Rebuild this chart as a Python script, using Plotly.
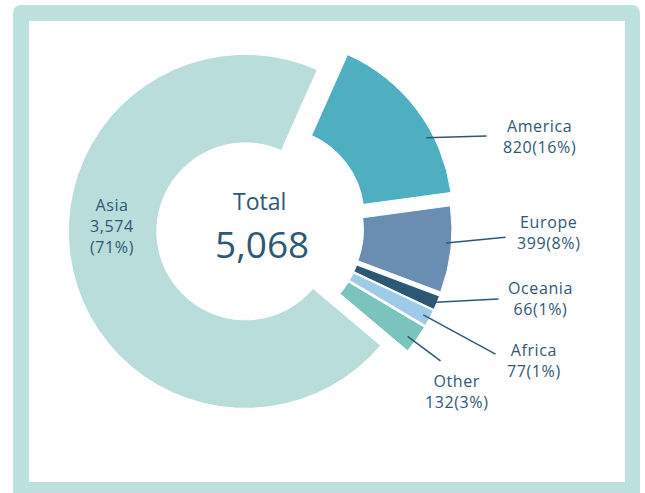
import math
import plotly.graph_objects as go

# Regional breakdown (clockwise from America)
regions = ["America", "Europe", "Oceania", "Africa", "Other", "Asia"]
counts = [820, 399, 66, 77, 132, 3574]
pct_labels = [16, 8, 1, 1, 3, 71]
colors = ["#4DAFBF", "#6A8EB2", "#2D5874", "#9DCBE8", "#7BC3BD", "#B9DDDB"]
pulls = [0.11, 0.085, 0.085, 0.085, 0.085, 0.085]

W, H = 645, 493
TEXT = "#2F5875"
FONT = "Open Sans"
FRAME = "#BDE1DF"
LABEL_SIZE = 16

# pie placement in pixels
CX, CY, R = 260, 228, 177
ROTATION = 24

def px(x):
    return x / W

def py(y):
    return 1 - y / H

half = R * (1 + max(pulls))
domain_x = [px(CX - half), px(CX + half)]
domain_y = [py(CY + half), py(CY - half)]

fig = go.Figure(go.Pie(
    labels=regions,
    values=counts,
    sort=False,
    direction="clockwise",
    rotation=ROTATION,
    hole=0.5,
    pull=pulls,
    marker=dict(colors=colors, line=dict(color="white", width=1)),
    textinfo="none",
    hoverinfo="label+value",
    domain=dict(x=domain_x, y=domain_y),
    showlegend=False,
))

# slice angles (degrees clockwise from 12 o'clock)
total = sum(counts)
starts, spans = [], []
a = ROTATION
for v in counts:
    starts.append(a)
    spans.append(360 * v / total)
    a += 360 * v / total

def slice_point(i, frac, rho):
    mid = math.radians(starts[i] + spans[i] / 2)
    ang = math.radians(starts[i] + frac * spans[i])
    off = pulls[i] * R
    x = CX + off * math.sin(mid) + rho * R * math.sin(ang)
    y = CY - off * math.cos(mid) - rho * R * math.cos(ang)
    return x, y

# outside labels: leader anchor (fraction along slice, radial fraction),
# leader end point, and the centre of the label block
label_pos = {
    "America": dict(frac=0.66, rho=0.96, end=(488, 136), centre=(539, 137)),
    "Europe": dict(frac=0.43, rho=0.97, end=(507, 237), centre=(548, 232)),
    "Oceania": dict(frac=0.5, rho=0.99, end=(500, 299), centre=(540, 298)),
    "Africa": dict(frac=0.5, rho=0.96, end=(497, 355), centre=(534, 360)),
    "Other": dict(frac=0.6, rho=0.95, end=(442, 362), centre=(456, 391)),
}

def spaced(s):
    return f"<span style='letter-spacing:0.6px'>{s}</span>"

def text_block(x, y, lines, size=LABEL_SIZE, track=True):
    body = "<br>".join(spaced(s) if track else s for s in lines)
    return dict(x=px(x), y=py(y), xref="paper", yref="paper", showarrow=False,
                text=body, xanchor="center", yanchor="middle", align="center",
                font=dict(family=FONT, size=size, color=TEXT))

annotations = []
for i, name in enumerate(regions):
    if name not in label_pos:
        continue
    spec = label_pos[name]
    hx, hy = slice_point(i, spec["frac"], spec["rho"])
    ex, ey = spec["end"]
    annotations.append(dict(
        x=px(hx), y=py(hy), xref="paper", yref="paper",
        ax=ex - hx, ay=ey - hy, text="",
        showarrow=True, arrowhead=0, arrowwidth=1.5, arrowcolor=TEXT,
        standoff=0, startstandoff=0,
    ))
    cx_, cy_ = spec["centre"]
    annotations.append(text_block(cx_, cy_, [name, f"{counts[i]:,}({pct_labels[i]}%)"]))

ia = regions.index("Asia")
annotations.append(text_block(112, 226, [regions[ia], f"{counts[ia]:,}", f"({pct_labels[ia]}%)"]))

# centre total
annotations.append(text_block(CX - 1, 201, ["Total"], size=23, track=False))
annotations.append(text_block(CX + 2, 243, [f"{total:,}"], size=37, track=False))

# rounded frame
def rounded_top_rect(x0, y0, x1, y1, rad):
    pts = [
        f"M {px(x0)},{py(y1)}",
        f"L {px(x0)},{py(y0 + rad)}",
        f"Q {px(x0)},{py(y0)} {px(x0 + rad)},{py(y0)}",
        f"L {px(x1 - rad)},{py(y0)}",
        f"Q {px(x1)},{py(y0)} {px(x1)},{py(y0 + rad)}",
        f"L {px(x1)},{py(y1)} Z",
    ]
    return " ".join(pts)

shapes = [
    dict(type="path", xref="paper", yref="paper", layer="below",
         path=rounded_top_rect(13, 5, 640, 500, 9),
         fillcolor=FRAME, line=dict(width=0)),
    dict(type="rect", xref="paper", yref="paper", layer="below",
         x0=px(29), x1=px(625), y0=py(482), y1=py(21),
         fillcolor="white", line=dict(width=0)),
]

fig.update_layout(
    width=W, height=H,
    margin=dict(l=0, r=0, t=0, b=0),
    paper_bgcolor="white",
    plot_bgcolor="white",
    shapes=shapes,
    annotations=annotations,
)

fig.write_html("out.html")
